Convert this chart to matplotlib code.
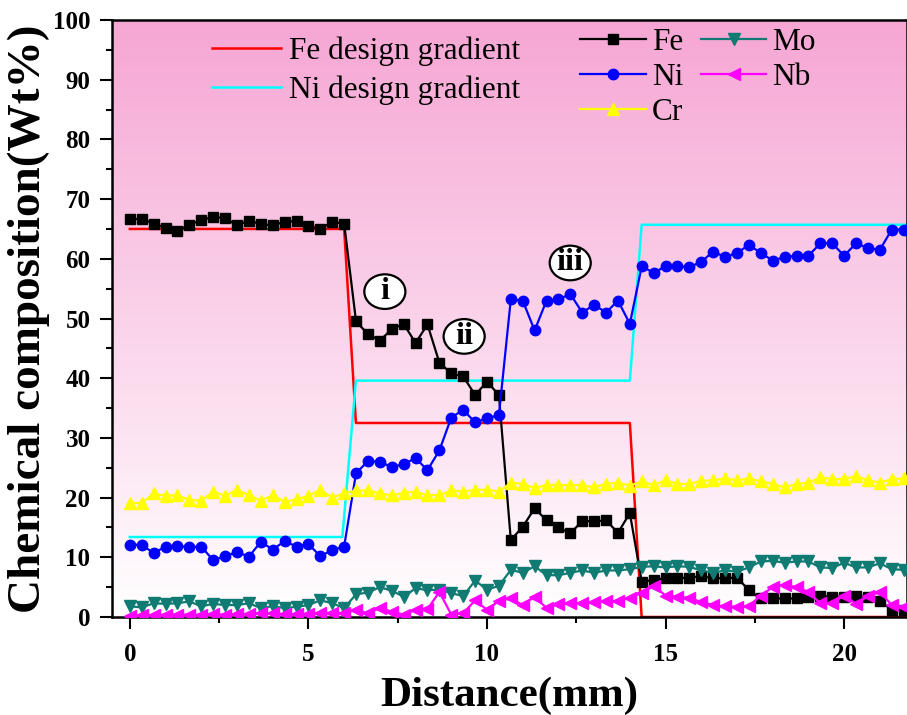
import numpy as np
import matplotlib
matplotlib.use('Agg')
import matplotlib.pyplot as plt
from matplotlib.patches import Ellipse

plt.rcParams['font.family'] = ['Liberation Serif', 'DejaVu Serif']

# measured composition (wt%), one point every 1/3 mm
fe = [66.6, 66.7, 65.9, 65.2, 64.7, 65.7, 66.5, 67.0, 66.8, 65.6, 66.4, 65.8, 65.6, 66.2, 66.3, 65.5, 65.0, 66.2, 65.9,
      49.5, 47.4, 46.3, 48.2, 49.1, 45.9, 49.0, 42.6, 40.8, 40.3, 37.2, 39.4, 37.2,
      12.9, 15.1, 18.2, 16.2, 15.0, 14.0, 16.1, 16.0, 16.2, 14.1, 17.4,
      5.9, 6.2, 6.5, 6.5, 6.6, 6.8, 6.5, 6.5, 6.6,
      4.5, 3.1, 3.1, 3.1, 3.1, 3.4, 3.5, 3.4, 3.4, 3.5, 3.4, 2.7, 1.2, 1.2]
ni = [12.1, 12.1, 10.7, 11.8, 11.9, 11.7, 11.8, 9.5, 10.2, 10.9, 10.1, 12.6, 11.3, 12.7, 11.8, 12.2, 10.2, 11.2, 11.8,
      24.1, 26.1, 26.0, 25.1, 25.6, 26.6, 24.6, 27.9, 33.4, 34.7, 32.6, 33.3, 33.8,
      53.2, 53.0, 48.0, 53.0, 53.2, 54.1, 51.0, 52.3, 51.0, 53.0, 49.1,
      58.8, 57.6, 58.8, 58.8, 58.6, 59.5, 61.2, 60.3, 61.0, 62.3, 61.0, 59.7, 60.3, 60.5, 60.5, 62.6, 62.6, 60.5,
      62.6, 61.8, 61.5, 64.9, 64.9]
cr = [19.1, 19.1, 20.7, 20.3, 20.4, 19.6, 19.5, 21.0, 20.3, 21.3, 20.4, 19.5, 20.4, 19.3, 19.7, 20.3, 21.3, 20.0, 20.7,
      21.2, 21.2, 20.7, 20.4, 20.8, 21.0, 20.4, 20.4, 21.2, 21.0, 21.3, 21.3, 21.0,
      22.5, 22.3, 21.6, 22.1, 22.1, 22.1, 22.1, 21.7, 22.3, 22.5, 22.0, 22.7, 22.1, 22.9, 22.3, 22.3, 22.8, 22.9,
      23.2, 22.9, 23.2, 22.7, 22.3, 21.7, 22.3, 22.5, 23.4, 23.1, 23.1, 23.6, 22.9, 22.5, 23.1, 23.2]
mo = [1.8, 1.6, 2.3, 2.2, 2.3, 2.6, 1.8, 2.2, 2.0, 2.0, 2.3, 1.5, 1.8, 1.5, 1.7, 2.0, 2.8, 2.3, 1.5,
      3.8, 4.1, 5.0, 4.4, 3.4, 4.8, 4.5, 4.6, 4.0, 3.5, 6.1, 4.6, 5.2,
      7.9, 7.4, 8.5, 7.0, 7.0, 7.4, 7.8, 7.4, 7.8, 7.8, 8.0, 8.4, 8.5, 8.3, 8.5, 8.4, 7.8, 7.4, 7.8, 7.6,
      8.3, 9.3, 9.4, 9.1, 9.3, 9.3, 8.3, 8.2, 9.1, 8.3, 8.3, 9.0, 8.0, 7.9]
nb = [0.2, 0.3, 0.3, 0.4, 0.4, 0.4, 0.4, 0.5, 0.4, 0.5, 0.5, 0.6, 0.6, 0.5, 0.5, 0.5, 0.6, 0.6, 0.6,
      1.2, 0.6, 1.5, 0.9, 0.4, 1.2, 1.3, 4.2, 0.4, 0.6, 2.8, 1.2, 2.7,
      3.1, 2.0, 3.4, 1.5, 2.2, 2.3, 2.3, 2.5, 2.6, 2.7, 3.2, 4.0, 5.2, 3.6, 3.4, 3.2, 2.5, 2.0, 1.8, 1.7,
      1.8, 3.6, 5.0, 5.4, 5.0, 4.2, 2.3, 2.3, 3.6, 2.2, 3.5, 4.2, 2.0, 1.7]
distance = np.arange(len(fe)) / 3.0

# design gradients
fe_design_x = [0, 6.0, 6.33, 14.0, 14.33, 22.5]
fe_design_y = [65.0, 65.0, 32.5, 32.5, 0.0, 0.0]
ni_design_x = [0, 5.95, 6.33, 14.0, 14.33, 22.5]
ni_design_y = [13.4, 13.4, 39.6, 39.6, 65.7, 65.7]

# region markers
regions = ['i', 'ii', 'iii']
region_x = [7.14, 9.36, 12.33]
region_y = [54.5, 47.0, 59.3]

fig = plt.figure(figsize=(9.07, 7.15), dpi=100)
ax = fig.add_axes([112 / 907, 1 - 617 / 715, 1 - 112 / 907, 597 / 715])

# pink to white background
top = np.array([246, 166, 212]) / 255
bot = np.array([255, 255, 255]) / 255
t = np.linspace(0, 1, 256)[:, None]
grad = (top * (1 - t) + bot * t)[:, None, :]
ax.imshow(grad, extent=[0, 1, 0, 1], transform=ax.transAxes, aspect='auto', zorder=0)

l1, = ax.plot(fe_design_x, fe_design_y, color='#ff0000', lw=1.8, zorder=2)
l2, = ax.plot(ni_design_x, ni_design_y, color='#00ffff', lw=1.8, zorder=2)

kw = dict(lw=1.6, zorder=3)
p_fe, = ax.plot(distance, fe, color='black', marker='s', ms=7, **kw)
p_ni, = ax.plot(distance, ni, color='#0000ff', marker='o', ms=7.5, **kw)
p_cr, = ax.plot(distance, cr, color='#ffff00', marker='^', ms=8, **kw)
p_mo, = ax.plot(distance, mo, color='#0f7b73', marker='v', ms=8, **kw)
p_nb, = ax.plot(distance, nb, color='#ff00ff', marker='<', ms=8, **kw)

ax.set_xlim(-0.5, 21.76)
ax.set_ylim(0, 100)
ax.set_xticks([0, 5, 10, 15, 20])
ax.set_xticks([2.5, 7.5, 12.5, 17.5], minor=True)
ax.set_yticks(range(0, 101, 10))
ax.set_yticks(range(5, 100, 10), minor=True)
ax.tick_params(which='major', direction='out', length=8.5, width=1.5, labelsize=18, pad=7)
ax.tick_params(which='minor', direction='out', length=4.5, width=1.5)
ax.tick_params(axis='x', which='major', pad=10)
for lab in ax.get_xticklabels() + ax.get_yticklabels():
    lab.set_fontweight('bold')
for s in ax.spines.values():
    s.set_linewidth(1.8)

ax.set_xlabel('Distance(mm)', fontsize=31, fontweight='bold', labelpad=8)
ax.set_ylabel('Chemical composition(Wt%)', fontsize=34, fontweight='bold', labelpad=2)

for txt, x, y in zip(regions, region_x, region_y):
    ax.add_patch(Ellipse((x, y), 1.15, 5.8, fc='white', ec='black', lw=1.6, zorder=5))
    ax.text(x, y, txt, fontsize=23, fontweight='bold', ha='center', va='center', zorder=6)

leg1 = ax.legend([l1, l2], ['Fe design gradient', 'Ni design gradient'], loc='upper left',
                 bbox_to_anchor=(0.126, 0.972), frameon=False, fontsize=22.5, handlelength=2.2,
                 handletextpad=0.25, labelspacing=0.3, borderpad=0, borderaxespad=0)
ax.add_artist(leg1)
ax.legend([p_fe, p_ni, p_cr, p_mo, p_nb], ['Fe', 'Ni', 'Cr', 'Mo', 'Nb'], loc='upper left',
          bbox_to_anchor=(0.589, 0.986), frameon=False, fontsize=22.5, ncol=2, numpoints=1,
          handlelength=2.1, handletextpad=0.2, labelspacing=0.18, columnspacing=0.55,
          borderpad=0, borderaxespad=0)

fig.savefig('out.png', dpi=100)
